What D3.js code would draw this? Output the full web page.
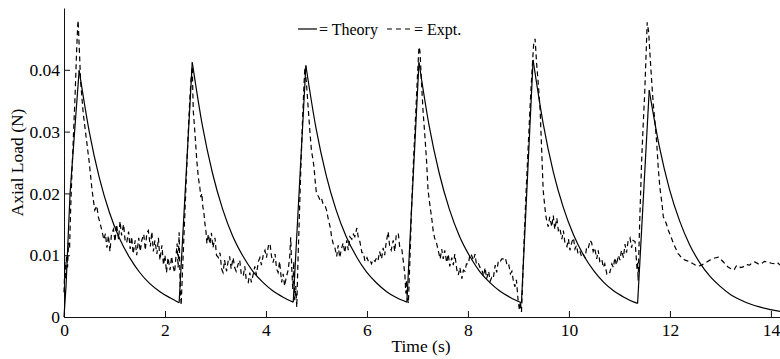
<!DOCTYPE html>
<html>
<head>
<meta charset="utf-8">
<script src="https://cdn.jsdelivr.net/npm/d3@7"></script>
<style>
  body { margin: 0; background: #fff; }
</style>
</head>
<body>
<svg id="chart" width="780" height="359"></svg>
<script>
// theory curve (solid) – time in s, axial load in N
const theoryT = [
  0.00, 0.04, 0.12, 0.20, 0.30,
  0.50, 0.70, 0.90, 1.10, 1.30, 1.50, 1.70, 1.90, 2.10, 2.28,
  2.54, 2.74, 2.94, 3.14, 3.34, 3.54, 3.74, 3.94, 4.14, 4.34, 4.54,
  4.79, 4.99, 5.19, 5.39, 5.59, 5.79, 5.99, 6.19, 6.39, 6.59, 6.79,
  7.03, 7.23, 7.43, 7.63, 7.83, 8.03, 8.23, 8.43, 8.63, 8.83, 9.06,
  9.29, 9.49, 9.69, 9.89, 10.09, 10.29, 10.49, 10.69, 10.89, 11.09, 11.29, 11.36,
  11.59, 11.79, 11.99, 12.19, 12.39, 12.59, 12.79, 12.99, 13.19, 13.39, 13.59, 13.79, 13.99, 14.19
];
const theoryY = [
  0.0000, 0.0050, 0.0200, 0.0289, 0.0399,
  0.0300, 0.0225, 0.0169, 0.0127, 0.0096, 0.0072, 0.0054, 0.0041, 0.0031, 0.0023,
  0.0412, 0.0310, 0.0233, 0.0175, 0.0131, 0.0099, 0.0074, 0.0056, 0.0042, 0.0032, 0.0024,
  0.0407, 0.0306, 0.0230, 0.0173, 0.0130, 0.0098, 0.0073, 0.0055, 0.0041, 0.0031, 0.0024,
  0.0412, 0.0310, 0.0233, 0.0175, 0.0131, 0.0099, 0.0074, 0.0056, 0.0042, 0.0032, 0.0023,
  0.0416, 0.0313, 0.0235, 0.0177, 0.0133, 0.0100, 0.0075, 0.0056, 0.0042, 0.0032, 0.0024, 0.0022,
  0.0367, 0.0276, 0.0207, 0.0156, 0.0117, 0.0088, 0.0066, 0.0050, 0.0037, 0.0028, 0.0021, 0.0016, 0.0012, 0.0009
];

// experiment (dashed)
const exptT = [
  0.00,0.02,0.03,0.05,0.07,0.09,0.11,0.13,0.16,0.19,0.22,0.25,0.27,0.28,0.30,0.33,0.38,0.44,0.50,0.55,0.58,0.61,0.65,0.68,0.72,0.75,0.79,0.82,0.85,0.88,0.91,0.94,0.98,1.01,1.04,1.08,1.11,1.14,1.18,1.21,1.24,1.28,1.31,1.34,1.37,1.41,1.44,1.48,1.51,1.54,1.58,1.61,1.64,1.67,1.71,1.74,1.77,1.80,1.84,1.87,1.90,1.94,1.97,2.00,2.03,2.06,2.10,2.13,2.16,2.19,2.22,2.24,2.26,2.28,2.30,2.32,
  2.34,2.37,2.41,2.45,2.49,2.52,2.54,2.56,2.60,2.63,2.66,2.69,2.71,2.73,2.75,2.77,2.79,2.81,2.83,2.86,2.89,2.92,2.95,2.99,3.02,3.06,3.09,3.12,3.15,3.18,3.22,3.25,3.28,3.31,3.35,3.38,3.41,3.45,3.48,3.51,3.55,3.58,3.61,3.65,3.68,3.71,3.75,3.78,3.81,3.85,3.88,3.91,3.95,3.98,4.01,4.05,4.08,4.11,4.14,4.18,4.21,4.24,4.27,4.31,4.34,4.37,4.40,4.42,4.44,4.47,4.49,4.51,4.53,4.55,4.57,4.59,4.61,
  4.63,4.66,4.69,4.72,4.75,4.77,4.80,4.84,4.87,4.90,4.93,4.95,4.98,5.00,5.04,5.07,5.10,5.13,5.17,5.20,5.23,5.27,5.30,5.33,5.36,5.40,5.43,5.46,5.50,5.53,5.56,5.60,5.63,5.66,5.70,5.73,5.76,5.80,5.83,5.86,5.90,5.93,5.96,6.00,6.03,6.06,6.09,6.12,6.16,6.19,6.22,6.25,6.29,6.32,6.35,6.38,6.42,6.45,6.48,6.52,6.55,6.58,6.62,6.65,6.69,6.72,6.75,6.77,6.78,6.80,6.82,
  6.85,6.88,6.92,6.96,7.00,7.03,7.05,7.08,7.11,7.15,7.18,7.21,7.24,7.26,7.29,7.31,7.34,7.38,7.41,7.45,7.48,7.51,7.54,7.58,7.61,7.64,7.68,7.71,7.74,7.78,7.81,7.84,7.88,7.91,7.94,7.97,8.01,8.04,8.07,8.11,8.14,8.17,8.21,8.24,8.27,8.31,8.34,8.37,8.41,8.44,8.47,8.50,8.54,8.57,8.60,8.63,8.67,8.70,8.74,8.78,8.81,8.84,8.87,8.90,8.93,8.96,8.99,9.02,9.04,9.06,
  9.08,9.11,9.15,9.19,9.23,9.27,9.30,9.33,9.36,9.40,9.43,9.46,9.49,9.52,9.54,9.56,9.59,9.62,9.66,9.69,9.72,9.76,9.79,9.82,9.86,9.89,9.92,9.96,9.99,10.02,10.06,10.09,10.12,10.15,10.18,10.22,10.25,10.28,10.32,10.35,10.38,10.42,10.45,10.48,10.51,10.55,10.58,10.61,10.65,10.68,10.71,10.75,10.78,10.81,10.85,10.88,10.91,10.94,10.98,11.01,11.04,11.08,11.11,11.14,11.17,11.21,11.24,11.27,11.31,11.33,11.35,11.36,11.37,
  11.40,11.44,11.47,11.50,11.53,11.55,11.58,11.60,11.64,11.67,11.71,11.74,11.77,11.80,11.84,11.87,11.91,11.94,11.97,12.02,12.07,12.12,12.16,12.23,12.30,12.38,12.46,12.55,12.63,12.71,12.79,12.87,12.96,13.01,13.06,13.15,13.21,13.27,13.31,13.35,13.40,13.45,13.51,13.58,13.63,13.68,13.75,13.81,13.87,13.94,14.01,14.08,14.13,14.18
];
const exptY = [
  0.0040,0.0090,0.0060,0.0100,0.0080,0.0120,0.0110,0.0170,0.0240,0.0300,0.0360,0.0430,0.0470,0.0480,0.0440,0.0380,0.0330,0.0290,0.0250,0.0210,0.0190,0.0173,0.0180,0.0162,0.0150,0.0140,0.0125,0.0135,
  0.0112,0.0132,0.0106,0.0134,0.0142,0.0122,0.0150,0.0126,0.0155,0.0132,0.0150,0.0124,0.0120,0.0138,0.0110,0.0130,0.0102,0.0124,0.0100,0.0128,0.0106,0.0124,0.0134,0.0108,0.0136,0.0140,0.0114,0.0138,0.0106,0.0124,0.0102,0.0128,0.0092,0.0116,0.0084,0.0100,0.0072,0.0096,0.0076,0.0098,0.0082,0.0072,
  0.0100,0.0119,0.0080,0.0137,0.0050,0.0019,
  0.0060,0.0120,0.0200,0.0280,0.0350,0.0390,0.0405,0.0334,0.0290,0.0253,0.0226,0.0210,0.0194,0.0200,0.0178,0.0170,0.0151,0.0140,0.0119,
  0.0134,0.0118,0.0136,0.0112,0.0128,0.0100,0.0096,0.0104,0.0078,0.0072,0.0092,0.0074,0.0090,0.0098,0.0078,0.0096,0.0080,0.0074,0.0086,0.0092,0.0070,0.0066,0.0082,0.0060,0.0056,0.0072,0.0056,0.0070,0.0082,0.0068,0.0090,0.0096,0.0084,0.0102,0.0108,0.0096,0.0116,0.0119,0.0098,0.0088,0.0102,0.0078,0.0072,0.0090,0.0056,0.0070,0.0050,0.0064,
  0.0070,0.0076,0.0098,0.0129,0.0080,0.0045,0.0090,0.0027,0.0050,0.0016,
  0.0080,0.0160,0.0240,0.0310,0.0370,0.0404,0.0380,0.0334,0.0300,0.0270,0.0255,0.0243,0.0215,0.0200,0.0195,0.0189,0.0192,0.0183,0.0180,0.0173,0.0160,0.0146,0.0130,0.0119,
  0.0114,0.0098,0.0116,0.0096,0.0112,0.0120,0.0104,0.0124,0.0108,0.0130,0.0126,0.0134,0.0130,0.0144,0.0128,0.0122,0.0104,0.0104,0.0090,0.0096,0.0090,0.0092,0.0086,0.0093,0.0090,0.0096,0.0092,0.0106,0.0094,0.0112,0.0100,0.0120,0.0138,0.0114,0.0108,0.0124,0.0106,0.0132,0.0136,0.0112,0.0110,
  0.0090,0.0070,0.0038,0.0060,0.0030,0.0022,
  0.0090,0.0170,0.0250,0.0320,0.0390,0.0437,0.0430,0.0380,0.0334,0.0290,0.0253,0.0205,0.0185,0.0173,0.0155,0.0140,0.0128,0.0119,0.0108,
  0.0094,0.0110,0.0094,0.0108,0.0088,0.0102,0.0082,0.0096,0.0084,0.0102,0.0076,0.0068,0.0080,0.0062,0.0076,0.0074,0.0086,0.0086,0.0102,0.0100,0.0092,0.0102,0.0084,0.0086,0.0080,0.0078,0.0066,0.0080,0.0062,0.0074,0.0058,0.0064,0.0062,0.0084,0.0072,0.0090,0.0088,0.0094,0.0094,0.0096,0.0082,0.0084,0.0070,0.0074,0.0058,
  0.0049,0.0060,0.0030,0.0011,0.0025,0.0008,
  0.0050,0.0120,0.0200,0.0270,0.0340,0.0400,0.0440,0.0450,0.0410,0.0370,0.0334,0.0270,0.0205,0.0180,0.0165,0.0156,
  0.0146,0.0162,0.0146,0.0164,0.0142,0.0160,0.0140,0.0144,0.0126,0.0140,0.0120,0.0114,0.0126,0.0108,0.0122,0.0128,0.0110,0.0116,0.0102,0.0106,0.0098,0.0102,0.0096,0.0112,0.0110,0.0124,0.0120,0.0106,0.0112,0.0094,0.0108,0.0090,0.0094,0.0080,0.0086,0.0070,0.0074,0.0072,0.0086,0.0080,0.0096,0.0084,0.0100,0.0092,0.0108,0.0096,0.0118,0.0104,0.0122,0.0128,0.0112,0.0124,0.0122,
  0.0100,0.0076,0.0090,0.0059,
  0.0150,0.0253,0.0310,0.0361,0.0430,0.0477,0.0460,0.0431,0.0380,0.0345,0.0310,0.0280,0.0240,0.0210,0.0185,0.0162,0.0155,0.0148,0.0140,0.0130,0.0119,0.0110,0.0103,0.0096,0.0092,0.0090,0.0086,0.0082,0.0084,0.0088,0.0092,0.0095,0.0097,0.0093,0.0089,0.0081,0.0078,0.0076,0.0082,0.0084,0.0080,0.0081,0.0085,0.0084,0.0088,0.0089,0.0086,0.0086,0.0090,0.0089,0.0087,0.0086,0.0088,0.0084
];

const xTicks = [0, 2, 4, 6, 8, 10, 12, 14];
const yTicks = [0, 0.01, 0.02, 0.03, 0.04];

const serif = "'Liberation Serif', 'Times New Roman', Times, serif";
const svg = d3.select("#chart");
const plotLeft = 64, plotRight = 780, plotTop = 8, plotBottom = 317;

const x = d3.scaleLinear().domain([0, 14.18]).range([plotLeft, plotRight]);
const y = d3.scaleLinear().domain([0, 0.05]).range([plotBottom, plotTop]);

// axes, ticks pointing inward
const xAxis = svg.append("g")
  .attr("transform", `translate(0,${plotBottom})`)
  .call(d3.axisBottom(x).tickValues(xTicks).tickSizeInner(-6).tickSizeOuter(0).tickPadding(7));
const yAxis = svg.append("g")
  .attr("transform", `translate(${plotLeft},0)`)
  .call(d3.axisLeft(y).tickValues(yTicks).tickSizeInner(-6).tickSizeOuter(0).tickPadding(4)
    .tickFormat(d => d === 0 ? "0" : d3.format(".2f")(d)));

[xAxis, yAxis].forEach(g => {
  g.attr("font-family", serif).attr("font-size", 17.5);
  g.selectAll("path, line").attr("stroke", "#111").attr("stroke-width", 1);
  g.selectAll("text").attr("fill", "#000");
});

// theory: rises drawn straight, decays smoothed
const pts = theoryT.map((t, i) => ({ t, v: theoryY[i] }));
const segs = [];
let cur = [pts[0]], dir = null;
for (let i = 1; i < pts.length; i++) {
  const d = pts[i].v > pts[i - 1].v ? "up" : "down";
  if (dir === null || d === dir) cur.push(pts[i]);
  else { segs.push({ dir, pts: cur }); cur = [pts[i - 1], pts[i]]; }
  dir = d;
}
segs.push({ dir, pts: cur });

segs.forEach(s => {
  const line = d3.line()
    .x(d => x(d.t)).y(d => y(d.v))
    .curve(s.dir === "up" ? d3.curveLinear : d3.curveMonotoneX);
  svg.append("path")
    .attr("d", line(s.pts))
    .attr("fill", "none")
    .attr("stroke", "#000")
    .attr("stroke-width", 1.2);
});

// experiment
const expt = exptT.map((t, i) => ({ t, v: exptY[i] }));
svg.append("path")
  .attr("d", d3.line().x(d => x(d.t)).y(d => y(d.v))(expt))
  .attr("fill", "none")
  .attr("stroke", "#000")
  .attr("stroke-width", 1.2)
  .attr("stroke-dasharray", "5,3.5");

// legend
const lg = svg.append("g");
lg.append("line").attr("x1", 298).attr("x2", 317).attr("y1", 29).attr("y2", 29)
  .attr("stroke", "#000").attr("stroke-width", 1.2);
lg.append("text").attr("x", 319).attr("y", 35).attr("font-size", 16).text("= Theory");
lg.append("line").attr("x1", 387).attr("x2", 412).attr("y1", 29).attr("y2", 29)
  .attr("stroke", "#000").attr("stroke-width", 1.2).attr("stroke-dasharray", "5,4");
lg.append("text").attr("x", 414).attr("y", 35).attr("font-size", 16).text("= Expt.");

// axis titles
svg.append("text")
  .attr("x", 421).attr("y", 352)
  .attr("text-anchor", "middle").attr("font-size", 17.5)
  .text("Time (s)");
svg.append("text")
  .attr("transform", `translate(23,${(plotTop + plotBottom) / 2}) rotate(-90)`)
  .attr("text-anchor", "middle").attr("font-size", 17.5)
  .text("Axial Load (N)");

svg.selectAll("text").style("font-family", serif);
</script>
</body>
</html>
